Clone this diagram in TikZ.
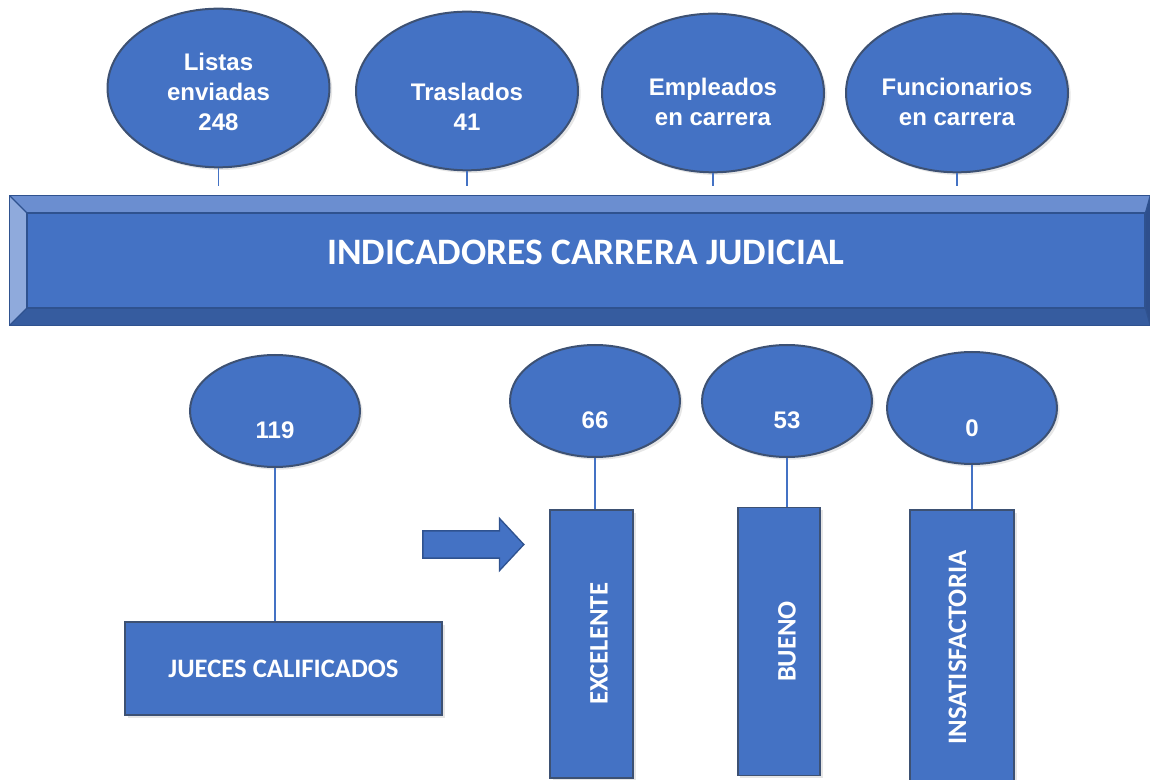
\documentclass[tikz,border=0pt]{standalone}
\usepackage{fontspec}
\setmainfont{Liberation Sans}
\newfontfamily\calibri{Carlito}
\usepackage{xcolor}
\usetikzlibrary{shapes.geometric}
\usetikzlibrary{shapes.arrows, shadows}
\usetikzlibrary{calc}
\definecolor{azul}{HTML}{4472C4}
\definecolor{borde}{HTML}{3D5173}
\definecolor{oscuro}{HTML}{2F528F}
\definecolor{claro}{HTML}{6B8ED0}
\definecolor{clarito}{HTML}{8FAADC}
\definecolor{sombra}{HTML}{365C9F}
\definecolor{sombrita}{HTML}{2E4F8C}

\begin{document}
\begin{tikzpicture} [
       x=0.75pt, y=-0.75pt,
       burbuja/.style={ellipse, draw=borde, line width=1.5pt, fill=azul,
               drop shadow={shadow xshift=2pt, shadow yshift=-2pt, opacity=.2}},
       grande/.style={burbuja, minimum width=166.5pt, minimum height=119pt},
       chica/.style={burbuja, minimum width=127.5pt, minimum height=84pt},
       cifra/.style={text=white, align=center,
               font=\bfseries\fontsize{18}{22.5}\selectfont},
       caja/.style={rectangle, draw=borde, line width=1.3pt, fill=azul,
               drop shadow={shadow xshift=2pt, shadow yshift=-2pt, opacity=.2}},
       vertical/.style={caja, minimum width=62pt, minimum height=201pt},
       rotulo/.style={text=white, font=\calibri\bfseries\fontsize{20}{24}\selectfont},
       flecha/.style={single arrow, draw=oscuro, line width=1pt, fill=azul,
               minimum height=75.75pt, inner xsep=0pt, inner ysep=9.7pt,
               single arrow head extend=9.4pt, single arrow tip angle=94},
       line/.style={draw=azul, line width=0.8pt},
       ]
       \path[use as bounding box, clip] (0,0) rectangle (1150,780);
       \node (listas) [grande, label={[cifra, yshift=-2.6pt]center:{Listas\\enviadas\\248}}] at (218.5,88) {};
       \node (traslados) [grande, label={[cifra, yshift=-11.6pt]center:{Traslados\\41}}] at (467,91) {};
       \node (empleados) [grande, label={[cifra, yshift=-6.4pt]center:{Empleados\\en carrera}}] at (713,93) {};
       \node (funcionarios) [grande, label={[cifra, yshift=-6.4pt]center:{Funcionarios\\en carrera}}] at (957,93) {};
       \node (banda) [rectangle, inner sep=0pt, minimum width=855pt, minimum height=96.75pt] at (580,260.5) {};
       \node (titulo) [rectangle, draw=oscuro, line width=1pt, fill=azul, inner sep=0pt,
               minimum width=838.5pt, minimum height=71.25pt,
               label={[text=white, yshift=6pt, font=\calibri\bfseries\fontsize{28}{32}\selectfont]center:INDICADORES CARRERA JUDICIAL}] at (586,260.5) {};
       \fill[claro] (banda.north west) -- (banda.north east) -- (titulo.north east) -- (titulo.north west) -- cycle;
       \fill[clarito] (banda.north west) -- (titulo.north west) -- (titulo.south west) -- (banda.south west) -- cycle;
       \fill[sombra] (banda.south west) -- (titulo.south west) -- (titulo.south east) -- (banda.south east) -- cycle;
       \fill[sombrita] (banda.north east) -- (titulo.north east) -- (titulo.south east) -- (banda.south east) -- cycle;
       \begin{scope}[draw=oscuro, line width=1pt]
        \draw (banda.north west) rectangle (banda.south east);
        \draw (titulo.north west) rectangle (titulo.south east);
        \draw (banda.north west) -- (titulo.north west);
        \draw (banda.south west) -- (titulo.south west);
        \draw (banda.north east) -- (titulo.north east);
        \draw (banda.south east) -- (titulo.south east);
       \end{scope}
       \begin{scope}[every path/.style=line, shorten >=7pt]
        \path (listas) -- (listas |- banda.north);
        \path (traslados) -- (traslados |- banda.north);
        \path (empleados) -- (empleados |- banda.north);
        \path (funcionarios) -- (funcionarios |- banda.north);
       \end{scope}
       \node (n119) [chica, label={[cifra, yshift=-14.25pt]center:119}] at (275,411) {};
       \node (n66) [chica, label={[cifra, yshift=-14.25pt]center:66}] at (595,401) {};
       \node (n53) [chica, label={[cifra, yshift=-14.25pt]center:53}] at (787,401) {};
       \node (n0) [chica, label={[cifra, yshift=-15pt]center:0}] at (972,408) {};
       \node (jueces) [caja, rotulo, minimum width=237.75pt, minimum height=69.75pt] at (283.5,668.5) {JUECES CALIFICADOS};
       \node (excelente) [vertical, label={[rotulo, xshift=5.6pt]center:\rotatebox{90}{EXCELENTE}}] at (591.5,644) {};
       \node (bueno) [vertical, label={[rotulo, xshift=6pt]center:\rotatebox{90}{BUENO}}] at (779,641.5) {};
       \node (insatisfactoria) [vertical, minimum width=78pt, minimum height=217.5pt,
               label={[rotulo, xshift=-3.4pt, yshift=5.6pt]center:\rotatebox{90}{INSATISFACTORIA}}] at (962,655) {};
       \node (flecha) [flecha] at (467,544.5) {};
       \begin{scope}[every path/.style=line]
        \path (n119) -- (n119 |- jueces.north);
        \path (n66) -- (n66 |- excelente.north);
        \path (n53) -- (n53 |- bueno.north);
        \path (n0) -- (n0 |- insatisfactoria.north);
       \end{scope}
\end{tikzpicture}
\end{document}
